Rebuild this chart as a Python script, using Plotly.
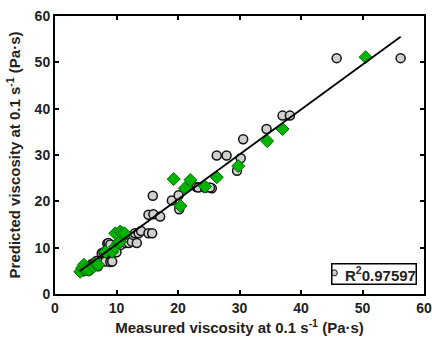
import plotly.graph_objects as go

# Gray circles: measured vs predicted
circ_x = [4.6, 4.9, 5.2, 5.5, 5.8, 6.0, 6.2, 6.5, 6.8, 7.0, 7.3, 7.6, 7.9, 8.2, 8.5, 8.5, 8.7, 9.0, 9.0, 9.3,
          9.3, 10.0, 10.7, 11.0, 11.5, 12.0, 12.5, 12.8, 13.3, 13.0, 13.6, 14.0, 15.2, 15.8, 15.2, 16.0, 17.1,
          15.9, 19.0, 20.1, 20.2, 23.0, 23.3, 24.4, 25.5, 25.2, 26.3, 27.9, 29.6, 30.2, 30.6, 34.4, 37.0,
          38.2, 45.8, 56.2]
circ_y = [4.9, 5.2, 5.5, 5.0, 5.9, 6.5, 6.3, 6.8, 7.2, 6.0, 6.8, 8.8, 9.0, 7.0, 8.8, 10.9, 11.0, 6.9, 10.7, 8.8,
          7.0, 9.0, 10.6, 11.5, 11.0, 11.0, 11.3, 12.7, 11.0, 13.1, 13.1, 13.6, 13.1, 13.1, 17.1, 17.2, 16.7,
          21.2, 20.2, 21.3, 18.3, 23.1, 23.0, 22.9, 22.8, 23.0, 29.9, 29.9, 26.6, 29.3, 33.4, 35.6, 38.5,
          38.5, 50.9, 50.9]

# Green diamonds
dia_x = [4.1, 4.4, 4.7, 5.0, 5.5, 6.3, 6.5, 7.0, 8.2, 9.3, 9.8, 10.3, 10.6, 9.8, 10.6, 11.2, 10.9, 11.3,
         19.3, 20.4, 21.1, 22.0, 24.4, 26.3, 29.8, 34.5, 37.0, 50.5]
dia_y = [4.8, 5.6, 6.3, 5.3, 5.2, 5.9, 6.6, 6.3, 9.1, 9.1, 10.2, 11.1, 11.3, 13.1, 13.5, 12.7, 13.1, 13.1,
         24.8, 19.0, 22.8, 24.6, 23.2, 25.2, 27.6, 33.0, 35.6, 51.1]

# Fit line end points
fit_x = [4.0, 56.2]
fit_y = [4.9, 55.5]

tick_vals = [0, 10, 20, 30, 40, 50, 60]
tick_labels = ["0", "10", "20", "30", "40", "50", "60"]

r2_label = "R<sup>2</sup>0.97597"

font_family = "Arial"
txt = "#222222"

fig = go.Figure()
fig.add_trace(go.Scatter(x=circ_x, y=circ_y, mode="markers", showlegend=False,
                         marker=dict(symbol="circle", size=9, color="#d0d0d0",
                                     line=dict(color="#111111", width=1.5))))
fig.add_trace(go.Scatter(x=dia_x, y=dia_y, mode="markers", showlegend=False,
                         marker=dict(symbol="diamond", size=10, color="#00b400",
                                     line=dict(color="#007000", width=1))))
fig.add_trace(go.Scatter(x=fit_x, y=fit_y, mode="lines", showlegend=False,
                         line=dict(color="black", width=1.8)))

axis_common = dict(showline=True, linecolor="black", linewidth=2, mirror="ticks",
                   ticks="inside", ticklen=4, tickwidth=1.5, tickcolor="black",
                   showgrid=False, zeroline=False, automargin=False,
                   tickmode="array", tickvals=tick_vals,
                   ticktext=["<b>" + t + "</b>" for t in tick_labels],
                   tickfont=dict(family=font_family, size=14, color=txt))

fig.update_layout(
    width=432, height=340,
    margin=dict(l=55, r=8, t=16, b=46),
    paper_bgcolor="white", plot_bgcolor="white",
    font=dict(family=font_family, color=txt),
    showlegend=False,
    xaxis=dict(range=[0, 60], **axis_common,
               title=dict(text="<b>Measured viscosity at 0.1 s<sup>-1</sup> (Pa·s)</b>",
                          font=dict(family=font_family, size=15), standoff=8)),
    yaxis=dict(range=[0, 60], **axis_common,
               title=dict(text="<b>Predicted viscosity at 0.1 s<sup>-1</sup> (Pa·s)</b>",
                          font=dict(family=font_family, size=15), standoff=10)),
)

# legend-like box with R^2 value
fig.add_annotation(xref="paper", yref="paper", x=0.982, y=0.032, xanchor="right", yanchor="bottom",
                   text="&nbsp;&nbsp;&nbsp;<b>" + r2_label + "</b>", showarrow=False,
                   font=dict(family=font_family, size=15, color=txt),
                   bordercolor="black", borderwidth=1.5, borderpad=0, bgcolor="rgba(0,0,0,0)")
fig.add_shape(type="circle", xref="paper", yref="paper", layer="above",
              x0=0.749, x1=0.765, y0=0.065, y1=0.087,
              fillcolor="#d0d0d0", line=dict(color="#111111", width=1))

fig.write_html("out.html")
